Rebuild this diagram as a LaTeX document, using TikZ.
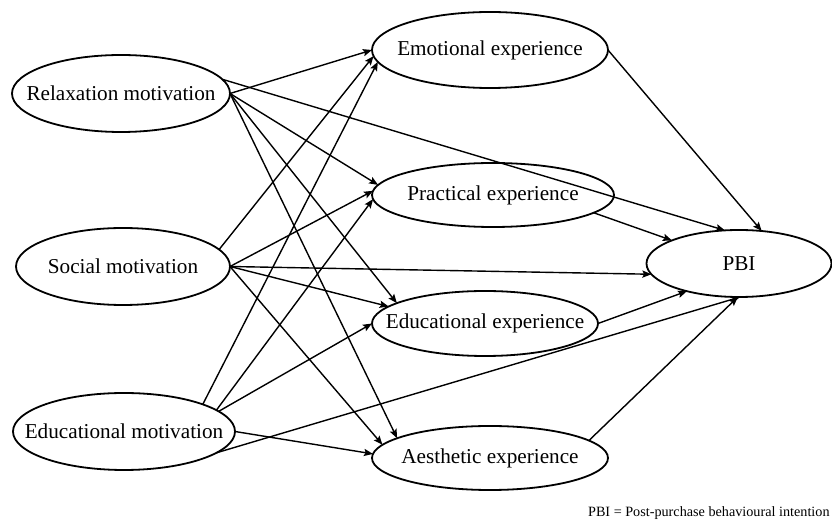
\documentclass[tikz,border=0pt]{standalone}
\usepackage{fontspec}
\setmainfont{Liberation Serif}
\usetikzlibrary{shapes.geometric,arrows.meta}
\begin{document}
\begin{tikzpicture}[x=0.5pt,y=-0.5pt,
  ell/.style={draw, ellipse, line width=0.9pt, inner sep=0pt, outer sep=0pt,
    font=\fontsize{10.6}{12}\selectfont},
  conn/.style={line width=0.7pt, -{Stealth[length=4.5pt,width=3.6pt,inset=0.8pt]}},
  notestyle/.style={font=\fontsize{7.1}{8}\selectfont, inner sep=0pt}]
\useasboundingbox (0,0) rectangle (832,529);
% motivations
\node[ell, minimum width=109pt, minimum height=38.5pt] (R) at (121,93.5) {\makebox[0pt]{Relaxation motivation}};
\node[ell, minimum width=107pt, minimum height=38.5pt] (S) at (123,266.5) {\makebox[0pt]{Social motivation}};
\node[ell, minimum width=111pt, minimum height=38.5pt] (Ed) at (124,431.5) {\makebox[0pt]{Educational motivation}};
% experiences
\node[ell, minimum width=118pt, minimum height=38pt] (Em) at (490,50) {\makebox[0pt]{Emotional experience}};
\node[ell, minimum width=121pt, minimum height=32pt] (Pr) at (493,195) {\makebox[0pt]{Practical experience}};
\node[ell, minimum width=113pt, minimum height=32.5pt] (EdE) at (485,323.5) {\makebox[0pt]{Educational experience}};
\node[ell, minimum width=118pt, minimum height=32pt] (Ae) at (490,458) {\makebox[0pt]{Aesthetic experience}};
% outcome
\node[ell, minimum width=92.5pt, minimum height=33.5pt] (PBI) at (739,263.5) {\makebox[0pt]{PBI}};
% connectors from Relaxation motivation
\draw[conn] (R.east) -- (Em.west);
\draw[conn] (R.8) -- (PBI.113);
\draw[conn] (R.east) -- (Pr.175);
\draw[conn] (R.east) -- (EdE.167);
\draw[conn] (R.east) -- (Ae.168);
% connectors from Social motivation
\draw[conn] (S.10) -- (Em.183);
\draw[conn] (S.east) -- (Pr.178);
\draw[conn] (S.east) -- (PBI.187);
\draw[conn] (S.east) -- (EdE.170);
\draw[conn] (S.east) -- (Ae.173);
% connectors from Educational motivation
\draw[conn] (Ed.19) -- (Em.186);
\draw[conn] (Ed.13) -- (Pr.182);
\draw[conn] (Ed.12) -- (EdE.west);
\draw[conn] (Ed.east) -- (Ae.178);
\draw[conn] (Ed.-13) -- (PBI.-88);
% connectors to PBI
\draw[conn] (Em.east) -- (PBI.55);
\draw[conn] (Pr.-10) -- (PBI.161);
\draw[conn] (EdE.east) -- (PBI.208);
\draw[conn] (Ae.10) -- (PBI.-92);
% footnote
\node[notestyle, anchor=base east] (note) at (830,517) {PBI = Post-purchase behavioural intention};
\end{tikzpicture}
\end{document}
